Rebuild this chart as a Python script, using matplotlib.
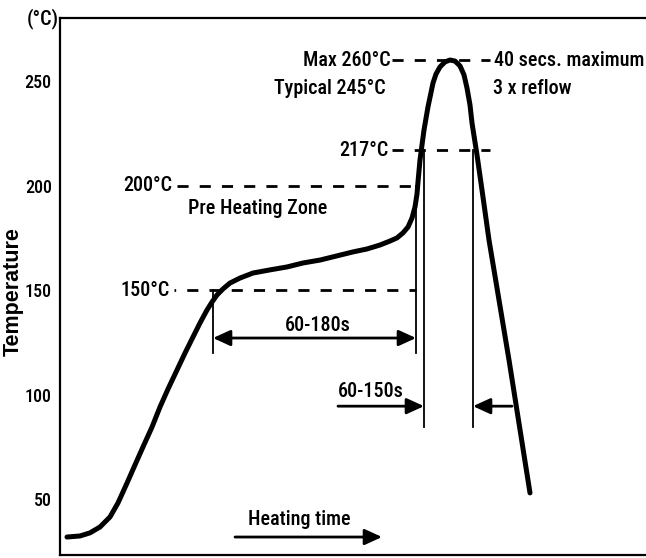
import matplotlib.pyplot as plt
from matplotlib import font_manager

# reflow profile (time in arbitrary units, temperature in °C)
profile_time = [7, 20, 30, 40, 50, 58, 67, 75, 83, 92, 100, 108, 117, 125, 133, 140,
                147, 152, 157, 163, 170, 180, 193, 210, 227, 243, 260, 277, 293, 307,
                320, 330, 337, 343, 348, 352, 355, 357, 358, 360, 364, 368, 373, 376,
                380, 385, 390, 395, 400, 404, 407, 410, 412, 417, 422, 429, 449, 470]
profile_temp = [32.0, 32.5, 34.0, 36.8, 41.6, 48.3, 57.8, 66.5, 75.1, 84.6, 94.2, 102.8,
                111.9, 120.0, 127.7, 134.4, 140.6, 144.4, 147.8, 150.7, 153.5, 155.9,
                158.3, 159.8, 161.2, 163.1, 164.5, 166.5, 168.4, 169.8, 171.7, 173.6,
                175.1, 177.5, 180.3, 184.6, 189.9, 196.1, 201.9, 212.4, 226.7, 237.8,
                249.2, 253.5, 256.9, 259.3, 260.2, 259.7, 257.4, 253.1, 246.8, 238.7,
                230.1, 214.8, 198.0, 174.1, 116.7, 53.1]

y_ticks = [50, 100, 150, 200, 250]

# reference temperatures and the time span of their dashed guide lines
limit_temps = [260, 217, 200, 150]
limit_spans = [(332, 430), (332, 430), (117, 357), (114, 356)]
limit_offsets = [0, 0, 0, 3.4]
limit_labels = ["Max 260°C", "217°C", "200°C", "150°C"]
limit_label_x = [331, 328, 112, 110]

# vertical markers: (time, top temperature, bottom temperature)
markers = [(153, 150, 120), (356, 200, 120), (364, 217, 84.6), (413, 217, 84.6)]

family = ["Liberation Sans Narrow", "DejaVu Sans Condensed", "Roboto Condensed",
          "Open Sans Condensed", "Arial Narrow", "Liberation Sans", "DejaVu Sans"]
available = {f.name for f in font_manager.fontManager.ttflist}
family = [f for f in family if f in available]
plt.rcParams["font.family"] = family
plt.rcParams["font.weight"] = "medium"
fs = 14.5

fig = plt.figure(figsize=(6.46, 5.58), dpi=100)
ax = fig.add_axes([60 / 646, 3 / 558, 1 - 60 / 646, 537 / 558])
ax.set_xlim(0, 586)
ax.set_ylim(23.4, 280.3)

ax.plot(profile_time, profile_temp, color="black", lw=3.6,
        solid_capstyle="round", solid_joinstyle="round", zorder=3)

for temp, (x0, x1), off, lab, lx in zip(limit_temps, limit_spans, limit_offsets,
                                         limit_labels, limit_label_x):
    ax.plot([x0, x1], [temp, temp], color="black", lw=2.0,
            linestyle=(off, (4.0, 4.0)), zorder=2)
    ax.text(lx, temp, lab, ha="right", va="center", fontsize=fs)

for t, top, bottom in markers:
    ax.plot([t, t], [bottom, top], color="black", lw=1.3, zorder=2)

ax.text(326, 246.8, "Typical 245°C", ha="right", va="center", fontsize=fs)
ax.text(434, 260, "40 secs. maximum", ha="left", va="center", fontsize=fs)
ax.text(433, 246.8, "3 x reflow", ha="left", va="center", fontsize=fs)
ax.text(128, 189.4, "Pre Heating Zone", ha="left", va="center", fontsize=fs)

arrow = dict(arrowstyle="-|>,head_length=1.05,head_width=0.48", color="black", lw=2.0,
             shrinkA=0, shrinkB=0)
darrow = dict(arrowstyle="<|-|>,head_length=1.05,head_width=0.48", color="black", lw=2.0,
              shrinkA=0, shrinkB=0)

ax.annotate("", xy=(153, 127.2), xytext=(356, 127.2), arrowprops=darrow)
ax.text(258, 133.4, "60-180s", ha="center", va="center", fontsize=fs)

ax.annotate("", xy=(364, 94.6), xytext=(278, 94.6), arrowprops=arrow)
ax.annotate("", xy=(413, 94.6), xytext=(452, 94.6), arrowprops=arrow)
ax.text(278, 101.4, "60-150s", ha="left", va="center", fontsize=fs)

ax.annotate("", xy=(322, 32), xytext=(175, 32), arrowprops=arrow)
ax.text(239, 40.2, "Heating time", ha="center", va="center", fontsize=fs)

ax.set_yticks(y_ticks)
ax.set_yticklabels([str(v) for v in y_ticks], fontsize=13)
ax.tick_params(axis="y", length=0, pad=6)
ax.set_xticks([])
ax.spines["right"].set_visible(False)
for s in ["left", "top", "bottom"]:
    ax.spines[s].set_linewidth(1.6)

fig.text(13 / 646, 1 - 292 / 558, "Temperature", rotation=90, ha="center", va="center",
         fontsize=15.5, fontweight="bold", family=["Liberation Sans", "DejaVu Sans"])
fig.text(43 / 646, 1 - 19 / 558, "(°C)", ha="center", va="center", fontsize=fs)

fig.savefig("out.png", dpi=100)
